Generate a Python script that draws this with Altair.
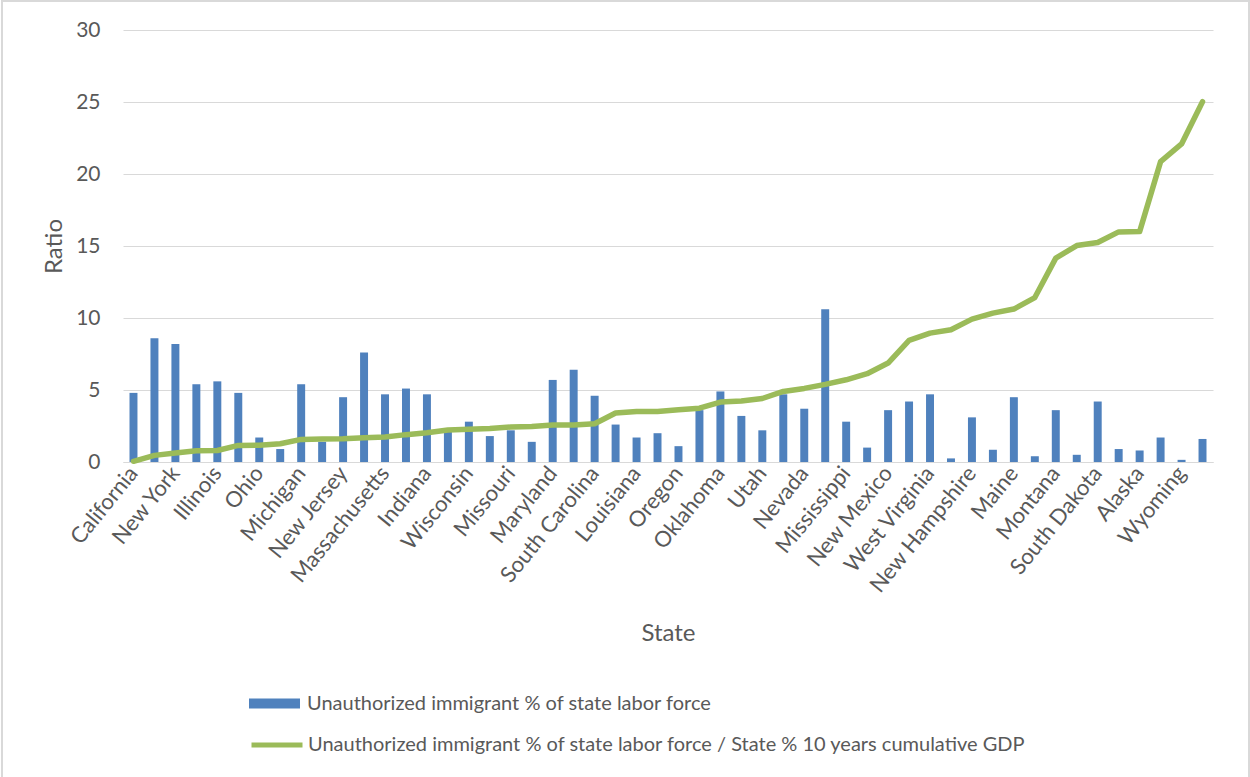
import altair as alt
import pandas as pd

# States ordered by the ratio series (every other one gets an axis label)
states = [
    "California", "Texas", "New York", "Florida", "Illinois", "Georgia",
    "Ohio", "Pennsylvania", "Michigan", "North Carolina", "New Jersey", "Virginia",
    "Massachusetts", "Washington", "Indiana", "Arizona", "Wisconsin", "Tennessee",
    "Missouri", "Minnesota", "Maryland", "Colorado", "South Carolina", "Alabama",
    "Louisiana", "Kentucky", "Oregon", "Connecticut", "Oklahoma", "Iowa",
    "Utah", "Kansas", "Nevada", "Arkansas", "Mississippi", "Nebraska",
    "New Mexico", "Idaho", "West Virginia", "Hawaii", "New Hampshire", "Delaware",
    "Maine", "Rhode Island", "Montana", "North Dakota", "South Dakota", "Vermont",
    "Alaska", "District of Columbia", "Wyoming", "Puerto Rico",
]

labor_share = [
    4.8, 8.6, 8.2, 5.4, 5.6, 4.8, 1.7, 0.9, 5.4, 1.4, 4.5, 7.6,
    4.7, 5.1, 4.7, 2.1, 2.8, 1.8, 2.2, 1.4, 5.7, 6.4, 4.6, 2.6,
    1.7, 2.0, 1.1, 3.6, 4.9, 3.2, 2.2, 4.7, 3.7, 10.6, 2.8, 1.0,
    3.6, 4.2, 4.7, 0.25, 3.1, 0.85, 4.5, 0.4, 3.6, 0.5, 4.2, 0.9,
    0.8, 1.7, 0.15, 1.6,
]

gdp_ratio = [
    0.05, 0.46, 0.62, 0.78, 0.8, 1.15, 1.17, 1.27, 1.57, 1.6, 1.62, 1.69,
    1.73, 1.9, 2.03, 2.22, 2.27, 2.33, 2.43, 2.47, 2.57, 2.57, 2.66, 3.4,
    3.51, 3.51, 3.63, 3.74, 4.16, 4.23, 4.41, 4.9, 5.11, 5.39, 5.71, 6.13,
    6.87, 8.44, 8.95, 9.18, 9.92, 10.34, 10.62, 11.42, 14.16, 15.03, 15.24, 15.98,
    16.0, 20.86, 22.09, 25.02,
]

labeled_states = states[::2]

bar_name = "Unauthorized immigrant % of state labor force"
line_name = "Unauthorized immigrant % of state labor force / State % 10 years cumulative GDP"

df = pd.DataFrame({
    "State": states,
    "Share": labor_share,
    "Ratio": gdp_ratio,
    "BarSeries": bar_name,
    "LineSeries": line_name,
})

FONT = "Lato"
TEXT = "#595959"
GRID = "#D9D9D9"
W, H = 1090, 432

x_enc = alt.X(
    "State:N",
    sort=states,
    scale=alt.Scale(paddingInner=0.62, paddingOuter=0.31),
    axis=alt.Axis(
        values=labeled_states,
        labelAngle=-51,
        labelAlign="right",
        labelBaseline="middle",
        labelPadding=7,
        labelFontSize=22,
        labelColor=TEXT,
        labelOverlap=False,
        labelLimit=0,
        ticks=False,
        domainColor=GRID,
        domainWidth=1,
        grid=False,
        title="State",
        titleFontSize=24,
        titleFontWeight="normal",
        titleColor=TEXT,
        titleY=171,
        titleBaseline="middle",
    ),
)

y_enc = alt.Y(
    "Share:Q",
    scale=alt.Scale(domain=[0, 30]),
    axis=alt.Axis(
        values=[0, 5, 10, 15, 20, 25, 30],
        labelFontSize=21,
        labelColor=TEXT,
        labelPadding=23,
        ticks=False,
        domain=False,
        gridColor=GRID,
        gridWidth=1,
        title="Ratio",
        titleFontSize=24,
        titleFontWeight="normal",
        titleColor=TEXT,
        titleX=-69,
        titleBaseline="middle",
    ),
)

bars = alt.Chart(df).mark_bar(color="#4F81BD").encode(
    x=x_enc,
    y=y_enc,
    color=alt.Color(
        "BarSeries:N",
        scale=alt.Scale(range=["#4F81BD"]),
        legend=alt.Legend(
            title=None,
            orient="none",
            legendX=126,
            legendY=648,
            symbolType="M-1,-0.2H1V0.2H-1Z",
            symbolSize=2601,
            symbolStrokeWidth=0,
            symbolOpacity=1,
            labelFontSize=20,
            labelColor=TEXT,
            labelOffset=7,
            labelLimit=0,
            padding=0,
        ),
    ),
)

line = alt.Chart(df).mark_line(
    strokeWidth=5.5, strokeCap="round", strokeJoin="round"
).encode(
    x=alt.X("State:N", sort=states),
    y=alt.Y("Ratio:Q"),
    stroke=alt.Stroke(
        "LineSeries:N",
        scale=alt.Scale(range=["#9BBB59"]),
        legend=alt.Legend(
            title=None,
            orient="none",
            legendX=126,
            legendY=687,
            symbolType="stroke",
            symbolSize=2601,
            symbolStrokeWidth=5,
            labelFontSize=20,
            labelColor=TEXT,
            labelOffset=3,
            labelLimit=0,
            padding=0,
        ),
    ),
)

# Light frame around the whole chart area
frame = alt.Chart(df).mark_rect(
    fill=None, stroke=GRID, strokeWidth=1.5, clip=False
).encode(
    x=alt.value(-121), x2=alt.value(W + 36),
    y=alt.value(-29), y2=alt.value(H + 320),
)

chart = alt.layer(bars, line, frame).resolve_scale(
    color="independent", stroke="independent"
).properties(
    width=W,
    height=H,
    autosize=alt.AutoSizeParams(type="none"),
    padding={"left": 123, "top": 30, "right": 37, "bottom": 315},
    background="white",
).configure(
    font=FONT,
).configure_view(
    stroke=None,
)

chart.save("out.html", embed_options={"renderer": "svg", "actions": False})
